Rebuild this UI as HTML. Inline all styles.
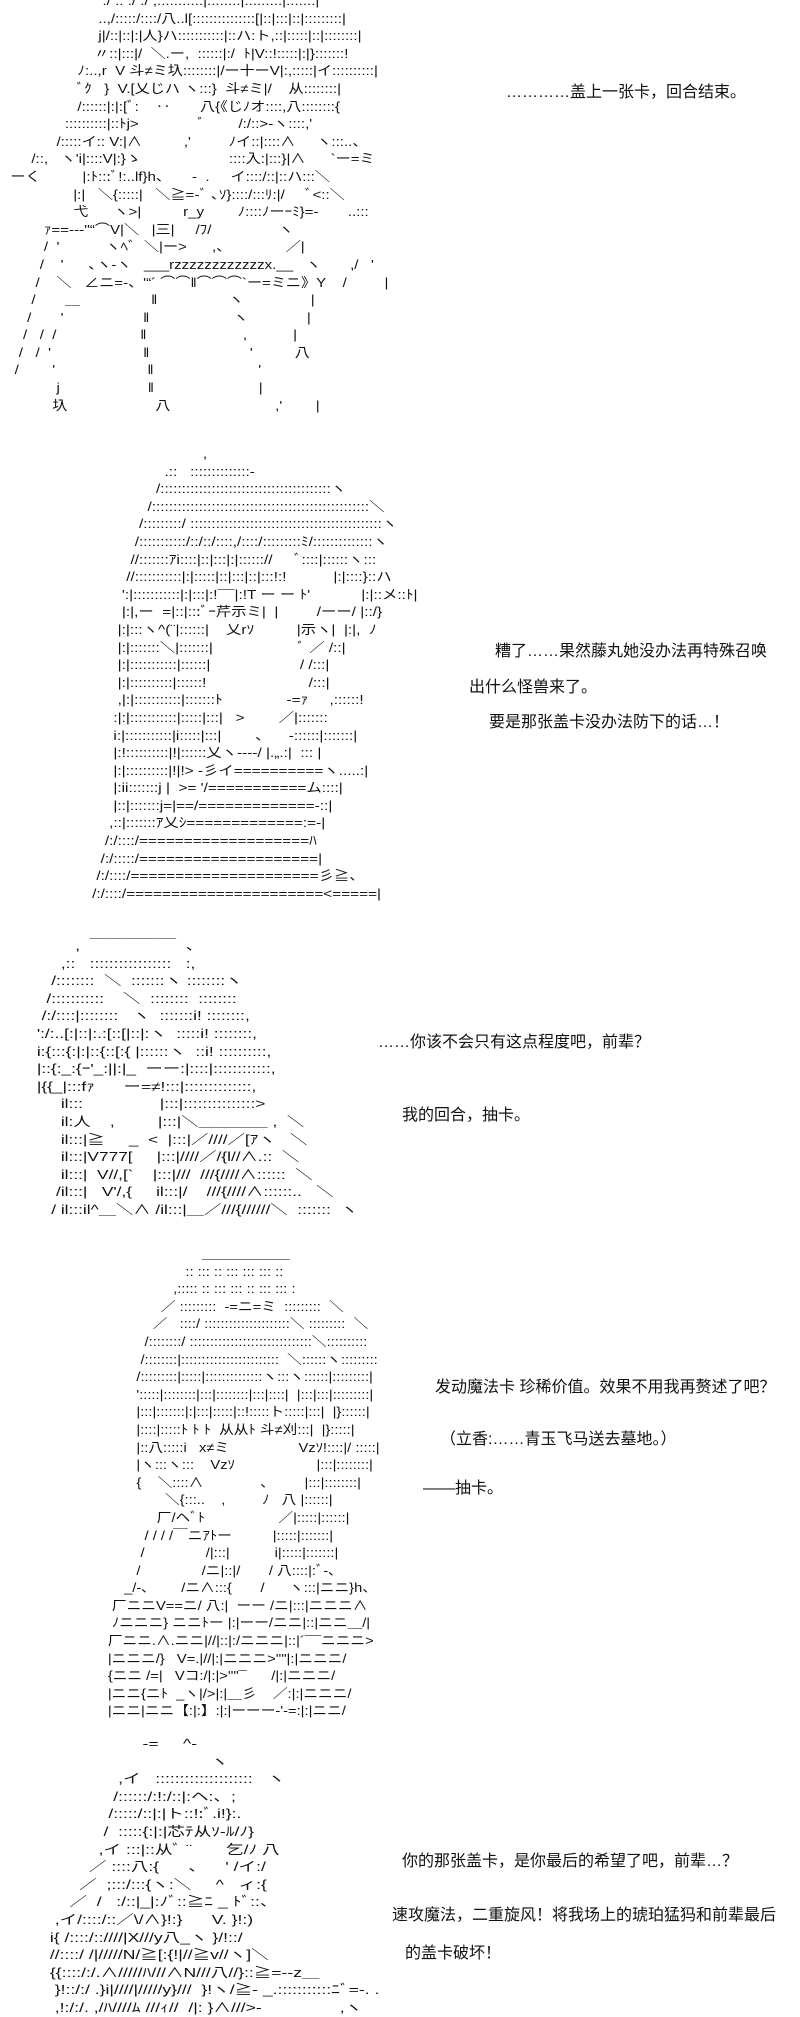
<!DOCTYPE html>
<html><head><meta charset="utf-8">
<style>
html,body{margin:0;padding:0;background:#fff;}
body{width:800px;height:2000px;position:relative;overflow:hidden;color:#000;}
pre{position:absolute;margin:0;font-family:"Liberation Sans","Noto Sans CJK JP",sans-serif;font-size:13px;line-height:17.6px;white-space:pre;color:#111;transform-origin:0 0;}
.t{position:absolute;font-family:"Liberation Sans","Noto Sans CJK SC",sans-serif;font-size:16px;line-height:20px;white-space:nowrap;color:#111;}
</style></head><body>

<pre style="left:2px;top:-8px;transform:scaleX(1.16);">
                        :/ :: :/ :/ ,:::::::::::|::::::::|:::::::::|:::::::|
                       ..,/:::::/::::/八..l[:::::::::::::::[|::|:::|::|:::::::::|
                       j|/::|::|:|人}ハ:::::::::::|::ハ:ト,::|:::::|::|::::::::|
                      〃::|:::|/  ＼.ー,  ::::::|:/  ﾄ|V::!:::::|:|}:::::::!
                  ﾉ:..,r  V 斗≠ミ圦::::::::|/ー十ーV|:,:::::|イ::::::::::|
                  ﾞｸ   }  V.[乂じハ ヽ:::}  斗≠ミ|/    从::::::::|
                  /::::::|:|:[ﾞ:    ‥       八{《じﾉオ::::,八::::::::{
               ::::::::::|::ﾄj>              ﾞ        /:/::>‐ヽ::::,'
             /:::::イ:: V:|∧          ,'         ﾉイ::|::::∧     ヽ:::..、
       /::,   ヽ'i|::::V|:}ゝ                     ::::入:|:::}|∧      `ー=ミ
  ーく          |:ﾄ:::ﾞ!:..lf}h、     -  .     イ::::/::|::ハ:::＼
                 |:|   ＼{:::::|   ＼≧=-ﾞ ､ｿ}::::/:::ﾘ:|/     ﾞ<::＼
                 弋      ヽ>|          r_y        ﾉ::::ﾉーｰﾐ}=‐       ..:::
          ｧ==‐-‐''“⌒V|＼   |三|     /ﾌ/                ヽ
          /  '           ヽﾍﾞ  ＼|ー>      ,、             ／|
         /    '      ､ヽ‐ヽ   ___rzzzzzzzzzzzzx.__   ヽ       ,/   '
        /    ＼   ∠ニ=‐、'“´ ⌒⌒‖⌒⌒⌒`ー=ミニ》Y    /         |
       /       ＿                 ‖                 ヽ                |
      /       '                   ‖                    ヽ              |
     /   /  /                    ‖                       ,           |
    /   /  '                      ‖                        '          八
   /        '                      ‖                         '
             j                     ‖                         |
            圦                     八                         ,'        |
</pre>
<div class="t" style="left:506px;top:83px;">…………盖上一张卡，回合结束。</div>

<pre style="left:58px;top:445px;transform:scaleX(1.18);">
                                  ,
                         .::   ::::::::::::::‐
                       /::::::::::::::::::::::::::::::::::::::::ヽ
                     /:::::::::::::::::::::::::::::::::::::::::::::::::::＼
                   /:::::::::/ :::::::::::::::::::::::::::::::::::::::::::::ヽ
                  /:::::::::::/::/::/::::,/::::/:::::::::ﾐ/::::::::::::::ヽ
                 //:::::::ｱi::::|::|:::|:|:::::://     ﾞ::::|::::::ヽ:::
                //:::::::::::|:|:::::|::|:::|::|:::!:!           |:|::::}::ハ
               ':|:::::::::::|:|:::|:!¯¯|:!T ー ー ﾄ'            |:|::メ::ﾄ|
               |:|,ー  =|::|:::ﾞｰ芹示ミ|  |         /ーー/ |::/}
              |:|:::ヽ^(¨|::::::|    乂rｿ          |示ヽ|  |:|,  ﾉ
              |:|:::::::＼|:::::::|                    ﾞ ／ /::|
              |:|:::::::::::|::::::|                     / /:::|
              |:|::::::::::|::::::!                        /:::|
              ,|:|:::::::::::|:::::::ﾄ               -=ｧ     ,::::::!
             :|:|:::::::::::|:::::|:::|   >        ／|:::::::
             i:|:::::::::::|i:::::|:::|        ､      -::::::|:::::::|
             |:!::::::::::|!|::::::乂ヽ--‐-/ |.„.:|  ::: |
             |:|::::::::::|!|!> -彡イ==========ヽ.....:|
             |:ii:::::::j |  >= '/===========ム::::|
             |::|:::::::j=|==/=============-::|
            ,::|:::::::ｱ乂ｼ=============:=-|
           /:/::::/===================ﾊ
          /:/:::::/====================|
         /:/::::/=====================彡≧、
        /:/::::/======================<=====|
</pre>
<div class="t" style="left:495px;top:642px;">糟了……果然藤丸她没办法再特殊召唤</div>
<div class="t" style="left:469px;top:678px;">出什么怪兽来了。</div>
<div class="t" style="left:489px;top:713px;">要是那张盖卡没办法防下的话…！</div>

<pre style="left:8px;top:937px;transform:scaleX(1.33);">
              ,  ￣￣￣￣￣  、
           ,::   :::::::::::::::::   :,
         /::::::::  ＼  :::::::ヽ ::::::::ヽ
        /:::::::::::    ＼  ::::::::  ::::::::
       /:/::::|::::::::   ヽ  :::::::i! ::::::::,
      ':/:..[:|::|:.:[::[|::|:ヽ  :::::i! ::::::::,
      i:{:::{:|:|::{::[:{ |::::::ヽ  ::i! ::::::::::,
      |::{:_:{ｰ'_:||:|_  ーー:|::::|::::::::::::,
      |{{_|:::fｧ      ー=≠!:::|::::::::::::::,
           il:::                |:::|:::::::::::::::>
           il:人    ,         |:::|＼＿＿＿＿ ,  ＼
           il:::|≧     _  <  |:::|／////／[ｱヽ   ＼
           il:::|V777[     |:::|////／/{l//∧.::  ＼
           il:::|  V//,[`    |:::|///  ///{////∧::::::  ＼
          /il:::|   V'/,{     il:::|/    ///{////∧::::::..   ＼
         / il:::il^＿＼∧ /il:::|＿／///{//////＼  :::::::  ヽ
</pre>
<div class="t" style="left:378px;top:1033px;">……你该不会只有这点程度吧，前辈？</div>
<div class="t" style="left:402px;top:1106px;">我的回合，抽卡。</div>

<pre style="left:67px;top:1245px;transform:scaleX(1.13);">
                                 ＿＿＿＿＿＿
                             :: ::: :: ::: ::: ::: ::
                          ,::::: :: ::: ::: :: ::: ::: :
                       ／ :::::::::  -=ニ=ミ  :::::::::  ＼
                     ／   ::::/ :::::::::::::::::::::＼ :::::::::  ＼
                   /::::::::/ ::::::::::::::::::::::::::::::＼::::::::::
                  /::::::::|::::::::::::::::::::::::  ＼::::::ヽ:::::::::
                 /:::::::::|:::::|::::::::::::::ヽ:::ヽ::::::|:::::::::|
                 ':::::|::::::::|:::|::::::::|:::|::::|  |:::|:::|:::::::::|
                 |:::|:::::::|:|:::|:::::|::!:::::ト:::::|:::|  |}::::::|
                 |::::|:::::ﾄ ﾄ ﾄ  从从ﾄ 斗≠刈:::|  |}:::::|
                 |::八:::::i   x≠ミ                 Vzｿ!::::|/ :::::|
                 |ヽ:::ヽ:::    Vzｿ                    |:::|::::::::|
                 {    ＼::::∧              ､         |:::|::::::::|
                        ＼{:::..    ,         ﾉ   八 |::::::|
                      厂/ヘﾞﾄ                  ／|:::::|::::::|
                   / / / /￣ニｱﾄー          |:::::|:::::::|
                  /               /|:::|           i|:::::|:::::::|
                 /               /ニ|::|/       / 八::::|:ﾞ‐､
              _/‐､        /ニ∧:::{       /      ヽ:::|ニニ}h、
           厂ニニV==ニ/ 八:|  ーー /ニ|:::|ニニニ∧
           ﾉニニニ} ニニﾄー |:|ーー/ニニ|::|ニニ＿/|
          厂ニニ.∧.ニニ|//|::|:/ニニニ|::|´¯¯ニニニ>
          |ニニニ/}   V=.|//|:|ニニニ>''"|:|ニニニ/
          {ニニ /=|   Vコ:/|:|>''"¯      /|:|ニニニ/
          |ニニ{ニﾄ  _ヽ|/>|:|＿彡    ／:|:|ニニニ/
          |ニニ|ニニ【:|:】:|:|ーーー‐'-=:|:|ニニ/
</pre>
<div class="t" style="left:435px;top:1378px;">发动魔法卡 珍稀价值。效果不用我再赘述了吧？</div>
<div class="t" style="left:440px;top:1430px;">（立香:……青玉飞马送去墓地。）</div>
<div class="t" style="left:423px;top:1479px;">——抽卡。</div>

<pre style="left:6px;top:1735px;transform:scaleX(1.35);">
                            -=     ^‐
                                          ヽ
                       ,イ   ::::::::::::::::::::   ヽ
                      /::::::/:!:/::|:ヘ:、;
                     /:::::/::|:|ト::!:ﾞ.i!}:.
                    /  :::::{:|:|芯ﾃ从ｿ-ﾙ/ﾉ}
                   ,イ :::|::从ﾞ ¨       乞/ﾉ 八
                 ／ ::::八:{      、    ' /イ:/
               ／  ;:::/:::{ヽ:＼     ^   ィ:{
             ／  /   :/::|_|:ﾉﾞ::≧ﾆ _ ﾄﾞ::、
          ,イ/::::/::／\/∧}!:}      V. }!:)
         i{ /::::/::////|X///y八_ヽ }/!::/
         //::::/ /|/////N/≧[:{!|//≧v//ヽ]＼
         {{::::/:/.∧/////ﾊ///∧N///八//}::≧=--z＿
          }!::/:/ .}i|////|/////y}///  }!ヽ/≧- _.:::::::::::ﾆﾞ=-. .
          ,!:/:/. ,/ﾊ////ﾑ ///ｨ//  /|: }∧///>-                ,ヽ
</pre>
<div class="t" style="left:402px;top:1852px;">你的那张盖卡，是你最后的希望了吧，前辈…？</div>
<div class="t" style="left:392px;top:1906px;">速攻魔法，二重旋风！将我场上的琥珀猛犸和前辈最后</div>
<div class="t" style="left:405px;top:1944px;">的盖卡破坏！</div>

</body></html>
